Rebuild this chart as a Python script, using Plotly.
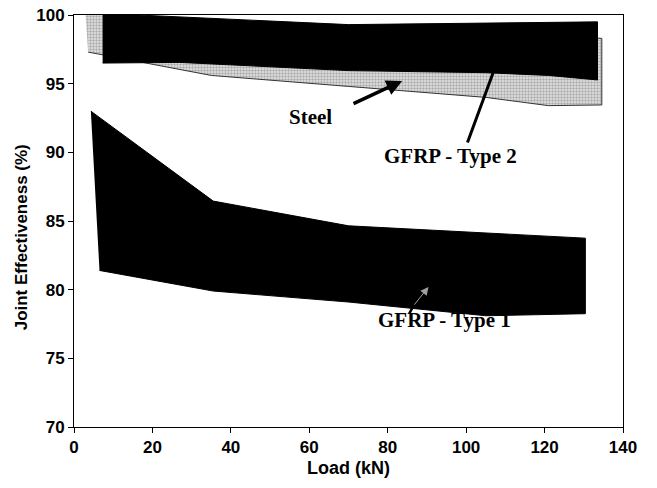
import plotly.graph_objects as go

# ---- data ----
steel_upper_load = [2.8, 7.3, 16.4, 70, 105, 134.6]
steel_upper_eff = [100.5, 100.3, 99.3, 98.9, 98.6, 98.3]
steel_lower_load = [3.6, 35, 70, 105, 121, 134.6]
steel_lower_eff = [97.3, 95.6, 94.8, 94.0, 93.4, 93.45]

t2_upper_load = [7.3, 16.4, 70, 133.5]
t2_upper_eff = [100.5, 100.0, 99.3, 99.5]
t2_lower_load = [7.3, 27, 70, 105, 121, 133.5]
t2_lower_eff = [96.5, 96.55, 95.95, 95.8, 95.6, 95.27]

t1_upper_load = [4.3, 35.5, 70, 105, 130.4]
t1_upper_eff = [93.0, 86.45, 84.65, 84.1, 83.75]
t1_lower_load = [6.5, 35.5, 70, 105, 130.4]
t1_lower_eff = [81.4, 79.9, 79.1, 78.1, 78.25]

x_ticks = [0, 20, 40, 60, 80, 100, 120, 140]
y_ticks = [70, 75, 80, 85, 90, 95, 100]


def band(ux, uy, lx, ly):
    return ux + lx[::-1], uy + ly[::-1]


fig = go.Figure()

sx, sy = band(steel_upper_load, steel_upper_eff, steel_lower_load, steel_lower_eff)
fig.add_trace(go.Scatter(
    x=sx, y=sy, fill="toself", mode="lines",
    line=dict(color="#333333", width=1),
    fillcolor="#d0d0d0",
    fillpattern=dict(shape=".", fgcolor="#707070", bgcolor="#e6e6e6", size=3, solidity=0.5),
    hoverinfo="skip", showlegend=False, name="Steel"))

t2x, t2y = band(t2_upper_load, t2_upper_eff, t2_lower_load, t2_lower_eff)
fig.add_trace(go.Scatter(
    x=t2x, y=t2y, fill="toself", mode="lines",
    line=dict(color="black", width=1), fillcolor="black",
    hoverinfo="skip", showlegend=False, name="GFRP - Type 2"))

t1x, t1y = band(t1_upper_load, t1_upper_eff, t1_lower_load, t1_lower_eff)
fig.add_trace(go.Scatter(
    x=t1x, y=t1y, fill="toself", mode="lines",
    line=dict(color="black", width=1), fillcolor="black",
    hoverinfo="skip", showlegend=False, name="GFRP - Type 1"))

serif = "Liberation Serif, Times New Roman, serif"
sans = "Liberation Sans, Arial, sans-serif"

annos = [
    dict(x=60.2, y=92.6, text="<b>Steel</b>", showarrow=False,
         font=dict(family=serif, size=21, color="black")),
    dict(x=95.9, y=89.7, text="<b>GFRP - Type 2</b>", showarrow=False,
         font=dict(family=serif, size=21, color="black")),
    dict(x=94.6, y=77.8, text="<b>GFRP - Type 1</b>", showarrow=False,
         font=dict(family=serif, size=21, color="black")),
    # arrows
    dict(x=83.7, y=95.2, ax=70.9, ay=93.5, axref="x", ayref="y", xref="x", yref="y",
         text="", showarrow=True, arrowhead=2, arrowsize=0.9, arrowwidth=3.5, arrowcolor="black"),
    dict(x=109.0, y=97.45, ax=100.2, ay=90.6, axref="x", ayref="y", xref="x", yref="y",
         text="", showarrow=True, arrowhead=2, arrowsize=1, arrowwidth=3, arrowcolor="black"),
    dict(x=86.5, y=78.8, ax=85.3, ay=78.15, axref="x", ayref="y", xref="x", yref="y",
         text="", showarrow=True, arrowhead=0, arrowwidth=2.5, arrowcolor="black"),
    dict(x=90.4, y=80.2, ax=86.5, ay=78.8, axref="x", ayref="y", xref="x", yref="y",
         text="", showarrow=True, arrowhead=2, arrowsize=1.6, arrowwidth=1, arrowcolor="#a0a0a0"),
    # y-axis title
    dict(x=-0.095, y=0.46, xref="paper", yref="paper", text="Joint Effectiveness (%)",
         showarrow=False, textangle=-90, xanchor="center", yanchor="middle",
         font=dict(family=sans, size=17, color="black", weight="bold")),
]

fig.update_layout(
    width=657, height=488,
    margin=dict(l=74, r=34, t=15, b=61),
    paper_bgcolor="white", plot_bgcolor="white",
    annotations=annos,
    xaxis=dict(range=[0, 140], tickvals=x_ticks, ticks="outside", ticklen=5,
               tickcolor="black", showline=True, mirror=True, linecolor="black",
               linewidth=1, showgrid=False, zeroline=False, automargin=False,
               tickfont=dict(family=sans, size=17, color="black", weight="bold"),
               title=dict(text="Load (kN)", standoff=4,
                          font=dict(family=sans, size=18, color="black", weight="bold"))),
    yaxis=dict(range=[70, 100], tickvals=y_ticks, ticks="outside", ticklen=5,
               tickcolor="black", showline=True, mirror=True, linecolor="black",
               linewidth=1, showgrid=False, zeroline=False, automargin=False,
               tickfont=dict(family=sans, size=17, color="black", weight="bold")),
)

fig.write_html("out.html")
